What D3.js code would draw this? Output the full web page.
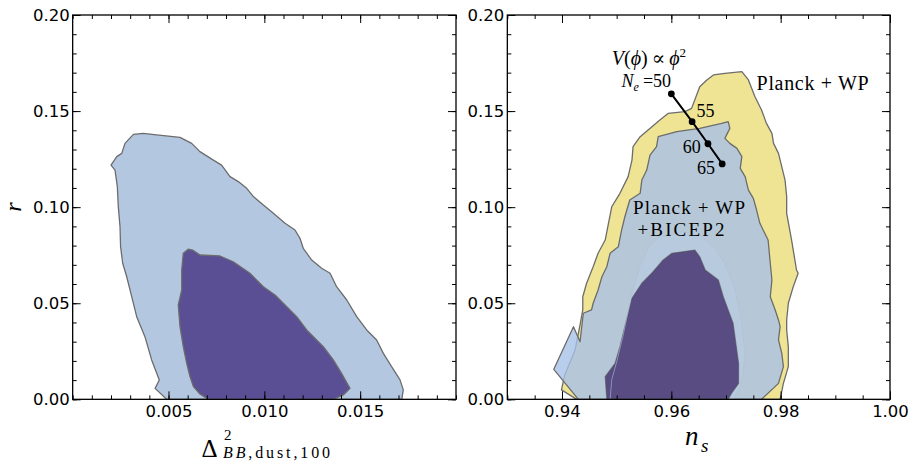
<!DOCTYPE html>
<html>
<head>
<meta charset="utf-8">
<script src="https://cdn.jsdelivr.net/npm/d3@7"></script>
<style>
  html, body { margin: 0; padding: 0; background: #fff; }
  svg { display: block; }
</style>
</head>
<body>
<svg id="chart" width="914" height="463"></svg>
<script>
// ---------------- DATA ----------------
// Left panel: r vs Delta^2_{BB,dust,100}  (BICEP2 + dust) contours [x, r]
const leftOuter95 = [[0.00490,0],[0.00430,0.0057],[0.00452,0.0101],[0.00412,0.0205],[0.00377,0.0326],[0.00334,0.0430],[0.00308,0.0534],[0.00282,0.0638],[0.00261,0.0708],[0.00250,0.0794],[0.00247,0.0899],[0.00238,0.1003],[0.00233,0.1107],[0.00221,0.1193],[0.00200,0.1219],[0.00230,0.1263],[0.00256,0.1280],[0.00273,0.1332],[0.00317,0.1379],[0.00369,0.1384],[0.00438,0.1376],[0.00560,0.1363],[0.00621,0.1332],[0.00664,0.1289],[0.00734,0.1245],[0.00777,0.1219],[0.00821,0.1159],[0.00864,0.1133],[0.00908,0.1098],[0.00943,0.1055],[0.00995,0.1011],[0.01047,0.0968],[0.01108,0.0916],[0.01160,0.0881],[0.01186,0.0838],[0.01203,0.0786],[0.01247,0.0725],[0.01299,0.0682],[0.01343,0.0656],[0.01377,0.0586],[0.01430,0.0517],[0.01482,0.0430],[0.01534,0.0361],[0.01586,0.0309],[0.01621,0.0239],[0.01664,0.0170],[0.01708,0.0101],[0.01725,0.0049],[0.01717,0]];
const leftInner68 = [[0.00708,0],[0.00664,0.0028],[0.00630,0.0066],[0.00612,0.0118],[0.00595,0.0187],[0.00577,0.0274],[0.00560,0.0378],[0.00551,0.0491],[0.00569,0.0569],[0.00569,0.0673],[0.00577,0.0760],[0.00603,0.0781],[0.00626,0.0777],[0.00664,0.0751],[0.00769,0.0746],[0.00838,0.0716],[0.00925,0.0656],[0.00995,0.0586],[0.01056,0.0543],[0.01108,0.0491],[0.01169,0.0430],[0.01221,0.0361],[0.01256,0.0326],[0.01308,0.0274],[0.01360,0.0205],[0.01403,0.0135],[0.01447,0.0057],[0.01412,0.0023],[0.01360,0]];

// Right panel: r vs n_s contours [n_s, r]
const planckWP95 = [[0.9427,0],[0.9399,0.0049],[0.9405,0.0127],[0.9424,0.0257],[0.9433,0.0387],[0.9438,0.0465],[0.9438,0.0534],[0.9445,0.0604],[0.9457,0.0690],[0.9466,0.0760],[0.9479,0.0829],[0.9485,0.0916],[0.9491,0.1002],[0.9506,0.1072],[0.9521,0.1159],[0.9528,0.1245],[0.9530,0.1315],[0.9543,0.1367],[0.9579,0.1454],[0.9594,0.1488],[0.9625,0.1497],[0.9637,0.1514],[0.9652,0.1627],[0.9665,0.1662],[0.9677,0.1688],[0.9698,0.1696],[0.9729,0.1705],[0.9741,0.1662],[0.9753,0.1575],[0.9765,0.1506],[0.9774,0.1436],[0.9784,0.1384],[0.9787,0.1332],[0.9796,0.1280],[0.9802,0.1211],[0.9808,0.1141],[0.9811,0.1054],[0.9811,0.0968],[0.9820,0.0829],[0.9829,0.0673],[0.9832,0.0656],[0.9823,0.0586],[0.9814,0.0500],[0.9811,0.0413],[0.9811,0.0361],[0.9814,0.0274],[0.9814,0.0170],[0.9805,0.0083],[0.9799,0]];
const planckWP68 = [[0.9488,0],[0.9491,0.0101],[0.9501,0.0205],[0.9512,0.0335],[0.9528,0.0552],[0.9543,0.0699],[0.9561,0.0803],[0.9579,0.0846],[0.9621,0.0872],[0.9652,0.0850],[0.9680,0.0788],[0.9698,0.0709],[0.9716,0.0579],[0.9726,0.0449],[0.9735,0.0241],[0.9731,0.0127],[0.9726,0.0064],[0.9713,0]];
const bicep95 = [[0.9430,0],[0.9385,0.0156],[0.9421,0.0378],[0.9433,0.0300],[0.9439,0.0448],[0.9454,0.0465],[0.9457,0.0500],[0.9466,0.0569],[0.9473,0.0638],[0.9482,0.0690],[0.9488,0.0760],[0.9503,0.0794],[0.9509,0.0881],[0.9515,0.0950],[0.9524,0.1037],[0.9543,0.1072],[0.9546,0.1141],[0.9555,0.1193],[0.9561,0.1271],[0.9573,0.1315],[0.9576,0.1367],[0.9610,0.1393],[0.9652,0.1410],[0.9692,0.1436],[0.9704,0.1445],[0.9707,0.1410],[0.9698,0.1358],[0.9707,0.1332],[0.9720,0.1306],[0.9729,0.1263],[0.9726,0.1202],[0.9735,0.1159],[0.9741,0.1089],[0.9750,0.1046],[0.9756,0.0985],[0.9762,0.0916],[0.9768,0.0881],[0.9777,0.0829],[0.9781,0.0708],[0.9784,0.0621],[0.9781,0.0534],[0.9790,0.0465],[0.9796,0.0413],[0.9799,0.0378],[0.9796,0.0309],[0.9802,0.0240],[0.9805,0.0170],[0.9796,0.0083],[0.9765,0]];
const bicep68 = [[0.9482,0],[0.9479,0.0118],[0.9497,0.0187],[0.9506,0.0274],[0.9518,0.0413],[0.9528,0.0526],[0.9546,0.0604],[0.9564,0.0656],[0.9585,0.0725],[0.9601,0.0760],[0.9643,0.0777],[0.9652,0.0742],[0.9662,0.0673],[0.9686,0.0621],[0.9695,0.0534],[0.9713,0.0396],[0.9723,0.0187],[0.9723,0.0083],[0.9710,0.0031],[0.9704,0]];

// phi^2 inflation prediction
const efolds   = [50, 55, 60, 65];
const phi2_ns  = [0.9600, 0.9638, 0.9667, 0.9693];
const phi2_r   = [0.1590, 0.1445, 0.1330, 0.1225];

// tick values / labels
const yTicks       = [0.00, 0.05, 0.10, 0.15, 0.20];
const leftXTicks   = [0.005, 0.010, 0.015];
const rightXTicks  = [0.94, 0.96, 0.98, 1.00];

// ---------------- LAYOUT ----------------
const svg = d3.select("#chart");
const TOP = 15, BOTTOM = 399.33;
const y  = d3.scaleLinear().domain([0, 0.2]).range([BOTTOM, TOP]);
const xL = d3.scaleLinear().domain([0, 0.02]).range([72.67, 456]);
const xR = d3.scaleLinear().domain([0.93, 1.00]).range([507.33, 890]);

const TICKFONT = "'DejaVu Sans', sans-serif";
const SERIF = "'Liberation Serif', 'DejaVu Serif', serif";
const EDGE = "#6c6c6c";

const defs = svg.append("defs");
function clip(id, x) {
  defs.append("clipPath").attr("id", id).append("rect")
    .attr("x", x.range()[0]).attr("y", TOP)
    .attr("width", x.range()[1] - x.range()[0]).attr("height", BOTTOM - TOP);
}
clip("clipL", xL); clip("clipR", xR);

function poly(g, x, pts, fill, stroke, sw) {
  const line = d3.line().x(d => x(d[0])).y(d => y(d[1]));
  g.append("path").attr("d", line(pts) + "Z")
    .attr("fill", fill).attr("stroke", stroke).attr("stroke-width", sw)
    .attr("stroke-linejoin", "round");
}

function axes(x, xTicks, xFmt, minorStep) {
  const g = svg.append("g");
  const [x0, x1] = x.domain();
  const xMinor = d3.range(Math.round(x0 / minorStep), Math.round(x1 / minorStep) + 1).map(i => i * minorStep);
  const yMinor = d3.range(0, 21).map(i => i * 0.01);
  const style = sel => {
    sel.select(".domain").remove();
    sel.selectAll("line").attr("stroke", "#000").attr("stroke-width", 1);
    sel.selectAll("text").attr("font-family", TICKFONT).attr("font-size", 16.5).attr("fill", "#000");
  };
  // minor
  g.append("g").attr("transform", `translate(0,${BOTTOM})`).call(d3.axisBottom(x).tickValues(xMinor).tickSize(-4).tickFormat("")).call(style);
  g.append("g").attr("transform", `translate(0,${TOP})`).call(d3.axisTop(x).tickValues(xMinor).tickSize(-4).tickFormat("")).call(style);
  g.append("g").attr("transform", `translate(${x.range()[0]},0)`).call(d3.axisLeft(y).tickValues(yMinor).tickSize(-4).tickFormat("")).call(style);
  g.append("g").attr("transform", `translate(${x.range()[1]},0)`).call(d3.axisRight(y).tickValues(yMinor).tickSize(-4).tickFormat("")).call(style);
  // major
  g.append("g").attr("transform", `translate(0,${BOTTOM})`).call(d3.axisBottom(x).tickValues(xTicks).tickSize(-8).tickPadding(6).tickFormat(d3.format(xFmt))).call(style);
  g.append("g").attr("transform", `translate(0,${TOP})`).call(d3.axisTop(x).tickValues(xTicks).tickSize(-8).tickFormat("")).call(style);
  g.append("g").attr("transform", `translate(${x.range()[0]},0)`).call(d3.axisLeft(y).tickValues(yTicks).tickSize(-8).tickPadding(3).tickFormat(d3.format(".2f"))).call(style);
  g.append("g").attr("transform", `translate(${x.range()[1]},0)`).call(d3.axisRight(y).tickValues(yTicks).tickSize(-8).tickFormat("")).call(style);
  // frame
  g.append("rect").attr("x", x.range()[0]).attr("y", TOP)
    .attr("width", x.range()[1] - x.range()[0]).attr("height", BOTTOM - TOP)
    .attr("fill", "none").attr("stroke", "#000").attr("stroke-width", 1.3);
}

// ---------------- LEFT PANEL ----------------
const gL = svg.append("g").attr("clip-path", "url(#clipL)");
poly(gL, xL, leftOuter95, "#b4c7e1", EDGE, 1.3);
poly(gL, xL, leftInner68, "#5a4f94", EDGE, 1.3);
axes(xL, leftXTicks, ".3f", 0.001);

// ---------------- RIGHT PANEL ----------------
const gR = svg.append("g").attr("clip-path", "url(#clipR)");
poly(gR, xR, planckWP95, "#eee493", EDGE, 1.3);
poly(gR, xR, planckWP68, "#f7f1b0", "none", 0);
poly(gR, xR, bicep95, "rgba(168,193,233,0.8)", EDGE, 1.3);
poly(gR, xR, bicep68, "rgba(64,44,108,0.8)", "rgba(80,80,90,0.6)", 1.2);
poly(gR, xR, planckWP68, "none", "rgba(175,192,212,0.6)", 1);

// phi^2 line
const phiPts = efolds.map((n, i) => [phi2_ns[i], phi2_r[i]]);
gR.append("path").attr("d", d3.line().x(d => xR(d[0])).y(d => y(d[1]))(phiPts))
  .attr("fill", "none").attr("stroke", "#000").attr("stroke-width", 2);
gR.selectAll("circle.pt").data(phiPts).enter().append("circle")
  .attr("cx", d => xR(d[0])).attr("cy", d => y(d[1])).attr("r", 3.4).attr("fill", "#000");

axes(xR, rightXTicks, ".2f", 0.005);

// ---------------- TEXT ----------------
function serifText(x, yy, size, anchor) {
  return svg.append("text").attr("x", x).attr("y", yy)
    .attr("font-family", SERIF).attr("font-size", size)
    .attr("text-anchor", anchor || "start").attr("fill", "#000");
}
// y label "r"
svg.append("text").attr("transform", "translate(21,207) rotate(-90)")
  .attr("font-family", SERIF).attr("font-style", "italic").attr("font-size", 24)
  .attr("text-anchor", "middle").text("r");

// left x label: Delta^2_{BB,dust,100}
serifText(201.5, 456.5, 25).text("Δ");
serifText(224, 440, 15).text("2");
const sub = serifText(223, 458, 16).attr("textLength", 107).attr("lengthAdjust", "spacing");
sub.append("tspan").attr("font-style", "italic").text("BB");
sub.append("tspan").text(",dust,100");

// right x label: n_s
serifText(685, 445, 27).attr("font-style", "italic").text("n");
serifText(701, 452, 19).attr("font-style", "italic").text("s");

// annotations (positions in data units)
serifText(xR(0.9756), y(0.161), 20).attr("textLength", 112).attr("lengthAdjust", "spacing").text("Planck + WP");
serifText(xR(0.9530), y(0.0962), 19).attr("textLength", 112).attr("lengthAdjust", "spacing").text("Planck + WP");
serifText(xR(0.9538), y(0.0850), 19).attr("textLength", 87).attr("lengthAdjust", "spacing").text("+BICEP2");

const vt = serifText(xR(0.9491), y(0.174), 20);
vt.append("tspan").attr("font-style", "italic").text("V");
vt.append("tspan").text("(");
vt.append("tspan").attr("font-style", "italic").text("ϕ");
vt.append("tspan").text(")\u2009∝\u2009");
vt.append("tspan").attr("font-style", "italic").text("ϕ");
vt.append("tspan").attr("font-size", 13).attr("dy", -8).text("2");

const nt = serifText(xR(0.9509), y(0.1627), 18);
nt.append("tspan").attr("font-style", "italic").text("N");
nt.append("tspan").attr("font-style", "italic").attr("font-size", 12).attr("dy", 4).text("e");
nt.append("tspan").attr("dy", -4).attr("dx", 4).text("=50");

const numLabels = [[55, 0.9646, 0.1469], [60, 0.9621, 0.1282], [65, 0.9647, 0.1173]];
numLabels.forEach(d => serifText(xR(d[1]), y(d[2]), 18).text(d[0]));
</script>
</body>
</html>
